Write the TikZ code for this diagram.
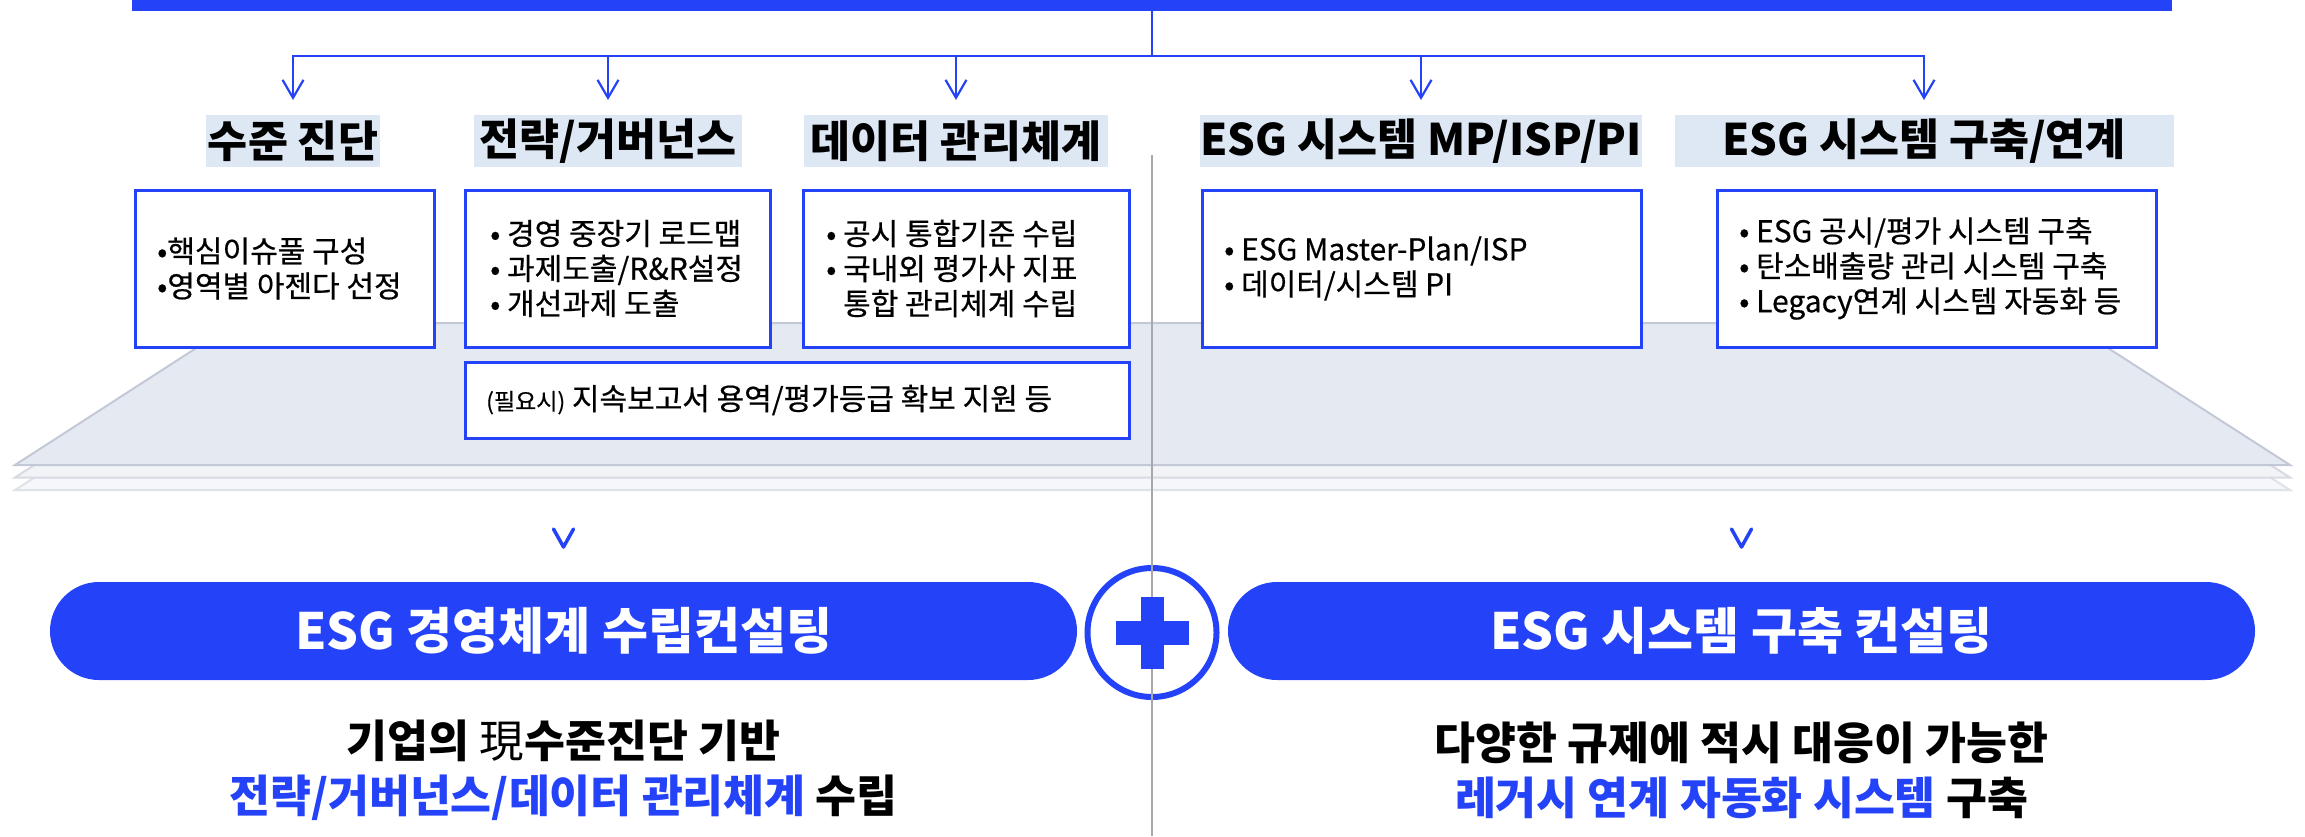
\documentclass[tikz,border=0pt]{standalone}
\usepackage{fontspec}
\setmainfont{Noto Sans CJK KR}
\newfontfamily\medfont{Noto Sans CJK KR}[FakeBold=0.5]
\usetikzlibrary{arrows.meta}
\definecolor{mblue}{HTML}{2442F7}
\definecolor{tbg}{HTML}{DEE8F5}
\definecolor{plat}{HTML}{E5EAF2}
\definecolor{platedge}{HTML}{C3C8D6}
\definecolor{plattwo}{HTML}{F1F3F7}
\definecolor{plattwoedge}{HTML}{D7DAE3}
\definecolor{platthree}{HTML}{F6F7FA}
\definecolor{platthreeedge}{HTML}{E0E2E9}
\definecolor{divg}{HTML}{A6A8AE}
\begin{document}
\begin{tikzpicture}[x=1pt,y=-1pt,
  conn/.style={draw=mblue, line width=2.2pt},
  arr/.style={conn, -{Straight Barb[length=18pt,width=21pt]}},
  titlebox/.style={fill=tbg, inner sep=0pt, outer sep=0pt, minimum height=52pt,
    font=\fontsize{43.5}{43.5}\selectfont\bfseries, text=black},
  infobox/.style={draw=mblue, line width=3pt, fill=white, inner sep=0pt, outer sep=0pt,
    anchor=north west},
  infotext/.style={anchor=west, align=left, inner sep=0pt,
    font=\medfont\fontsize{30}{35}\selectfont, text=black},
  pill/.style={fill=mblue, rounded corners=49pt, minimum width=1027pt, minimum height=98pt,
    inner sep=0pt, text=white, font=\fontsize{50}{50}\selectfont\bfseries},
  chev/.style={draw=mblue, line width=3.5pt, line cap=round, line join=round},
  bottomtext/.style={align=center, inner sep=0pt, font=\fontsize{44.5}{55}\selectfont\bfseries, text=black},
  divider/.style={draw=divg, line width=1.8pt}
]
\useasboundingbox (0,0) rectangle (2305,836);

% platform layers
\fill[platthree, draw=platthreeedge, line width=2pt] (235,348) -- (2069,348) -- (2290,490) -- (15,490) -- cycle;
\fill[plattwo, draw=plattwoedge, line width=2pt] (235,335.5) -- (2069,335.5) -- (2290,477.5) -- (15,477.5) -- cycle;
\fill[plat, draw=platedge, line width=2pt] (235,323) -- (2069,323) -- (2290,465) -- (15,465) -- cycle;

% divider
\coordinate (dtop) at (1152,155);
\coordinate (dbot) at (1152,836);
\draw[divider] (dtop) -- (dbot);

% top bar and connectors
\node[fill=mblue, anchor=north west, minimum width=2040pt, minimum height=11pt, inner sep=0pt, outer sep=0pt] (bar) at (132,0) {};
\coordinate (hub) at (1152,56);

% titles
\node[titlebox, minimum width=174pt] (t1) at (293,141) {수준 진단};
\node[titlebox, minimum width=268pt] (t2) at (608,141) {전략/거버넌스};
\node[titlebox, minimum width=304pt] (t3) at (956,141) {데이터 관리체계};
\node[titlebox, minimum width=438pt] (t4) at (1421,141) {ESG 시스템 MP/ISP/PI};
\node[titlebox, minimum width=499pt] (t5) at (1924,141) {ESG 시스템 구축/연계};

\draw[conn] (bar.south) -- (hub);
\foreach \t in {t1,t2,t3,t4,t5}{
  \draw[arr] (hub) -| ([yshift=15pt]\t.north);
}

% boxes
\node[infobox, minimum width=299pt, minimum height=157pt] (b1) at (135,190) {};
\node[infobox, minimum width=305pt, minimum height=157pt] (b2) at (465,190) {};
\node[infobox, minimum width=326pt, minimum height=157pt] (b3) at (803,190) {};
\node[infobox, minimum width=664pt, minimum height=76pt] (b4) at (465,362) {};
\node[infobox, minimum width=439pt, minimum height=157pt] (b5) at (1202,190) {};
\node[infobox, minimum width=439pt, minimum height=157pt] (b6) at (1717,190) {};

\node[infotext] (b1t) at ([xshift=22pt]b1.west) {•핵심이슈풀 구성\\•영역별 아젠다 선정};
\node[infotext] (b2t) at ([xshift=25pt]b2.west) {• 경영 중장기 로드맵\\• 과제도출/R\&R설정\\• 개선과제 도출};
\node[infotext] (b3t) at ([xshift=23pt]b3.west) {• 공시 통합기준 수립\\• 국내외 평가사 지표\\\phantom{• }통합 관리체계 수립};
\node[infotext] (b4t) at ([xshift=21pt]b4.west) {{\fontsize{23}{23}\selectfont(필요시)} 지속보고서 용역/평가등급 확보 지원 등};
\node[infotext] (b5t) at ([xshift=22pt]b5.west) {• ESG Master-Plan/ISP\\• 데이터/시스템 PI};
\node[infotext] (b6t) at ([xshift=22pt]b6.west) {• ESG 공시/평가 시스템 구축\\• 탄소배출량 관리 시스템 구축\\• Legacy연계 시스템 자동화 등};

% chevrons
\coordinate (c1) at (563.5,538);
\coordinate (c2) at (1741.5,538);
\foreach \c in {c1,c2}{
  \draw[chev] ([xshift=-10pt,yshift=9pt]\c) -- ([yshift=-9pt]\c) -- ([xshift=10pt,yshift=9pt]\c);
}

% pills
\node[pill] (p1) at (563.5,631) {ESG 경영체계 수립컨설팅};
\node[pill] (p2) at (1741.5,631) {ESG 시스템 구축 컨설팅};

% plus circle
\node[circle, draw=mblue, line width=6pt, fill=white, minimum size=129pt, inner sep=0pt] (plus) at (1152,632.5) {};
\draw[divider] (plus.north) -- (plus.south);
\fill[mblue] ([xshift=-11.5pt,yshift=36pt]plus.center) rectangle ([xshift=11.5pt,yshift=-36pt]plus.center);
\fill[mblue] ([xshift=-36.5pt,yshift=12pt]plus.center) rectangle ([xshift=36.5pt,yshift=-12pt]plus.center);

% bottom texts
\node[bottomtext] (l1) at (563.5,770) {기업의 {\mdseries 現}수준진단 기반\\{\color{mblue}전략/거버넌스/데이터 관리체계} 수립};
\node[bottomtext] (l2) at (1741.5,770) {다양한 규제에 적시 대응이 가능한\\{\color{mblue}레거시 연계 자동화 시스템} 구축};
\end{tikzpicture}
\end{document}
